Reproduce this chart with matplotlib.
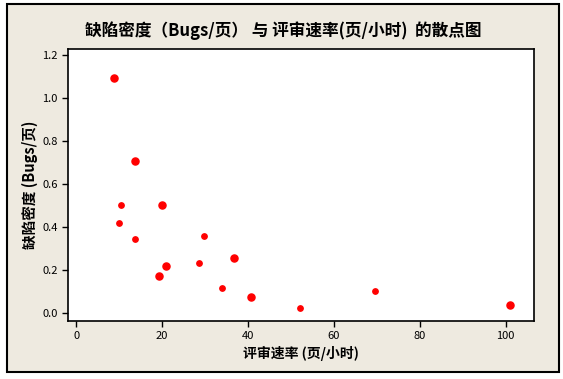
import matplotlib.pyplot as plt
from matplotlib.patches import Rectangle

plt.rcParams['font.family'] = ['Noto Sans CJK SC', 'DejaVu Sans']

# 评审速率 (页/小时) 与 缺陷密度 (Bugs/页)
rate_big = [8.85, 13.7, 20.0, 20.95, 19.3, 36.8, 40.7, 101.0]
density_big = [1.093, 0.707, 0.502, 0.219, 0.172, 0.256, 0.074, 0.037]
rate_small = [10.3, 9.87, 13.7, 29.8, 28.6, 33.9, 52.0, 69.5]
density_small = [0.502, 0.419, 0.346, 0.361, 0.235, 0.118, 0.023, 0.102]

bg = '#EEEAE0'
fig = plt.figure(figsize=(5.63, 3.79), dpi=100, facecolor='white')
# outer frame
fig.patches.append(Rectangle((7 / 563, 1 - 372 / 379), (559 - 7) / 563, (372 - 4) / 379,
                             transform=fig.transFigure, facecolor=bg,
                             edgecolor='black', linewidth=1.5, zorder=-5))

ax = fig.add_axes([68 / 563, 1 - 321 / 379, (534 - 68) / 563, (321 - 49) / 379])
ax.set_facecolor('white')
ax.scatter(rate_big, density_big, s=26, color='#FF0000', zorder=3)
ax.scatter(rate_small, density_small, s=15, color='#FF0000', zorder=3)

ax.set_xlim(-1.93, 106.6)
ax.set_ylim(-0.036, 1.229)
ax.set_xticks([0, 20, 40, 60, 80, 100])
ax.set_yticks([0.0, 0.2, 0.4, 0.6, 0.8, 1.0, 1.2])
ax.set_yticklabels(['0.0', '0.2', '0.4', '0.6', '0.8', '1.0', '1.2'])
ax.tick_params(labelsize=8, length=4, width=1, colors='black')
for s in ax.spines.values():
    s.set_linewidth(1.2)

ax.set_xlabel('评审速率 (页/小时)', fontsize=10, fontweight='bold', labelpad=3)
ax.set_ylabel('缺陷密度 (Bugs/页)', fontsize=10.5, fontweight='bold', labelpad=3)
fig.text(283 / 563, 1 - 31 / 379, '缺陷密度（Bugs/页） 与 评审速率(页/小时)  的散点图',
         ha='center', va='center', fontsize=12, fontweight='bold')

fig.savefig('out.png', dpi=100, facecolor='white')
